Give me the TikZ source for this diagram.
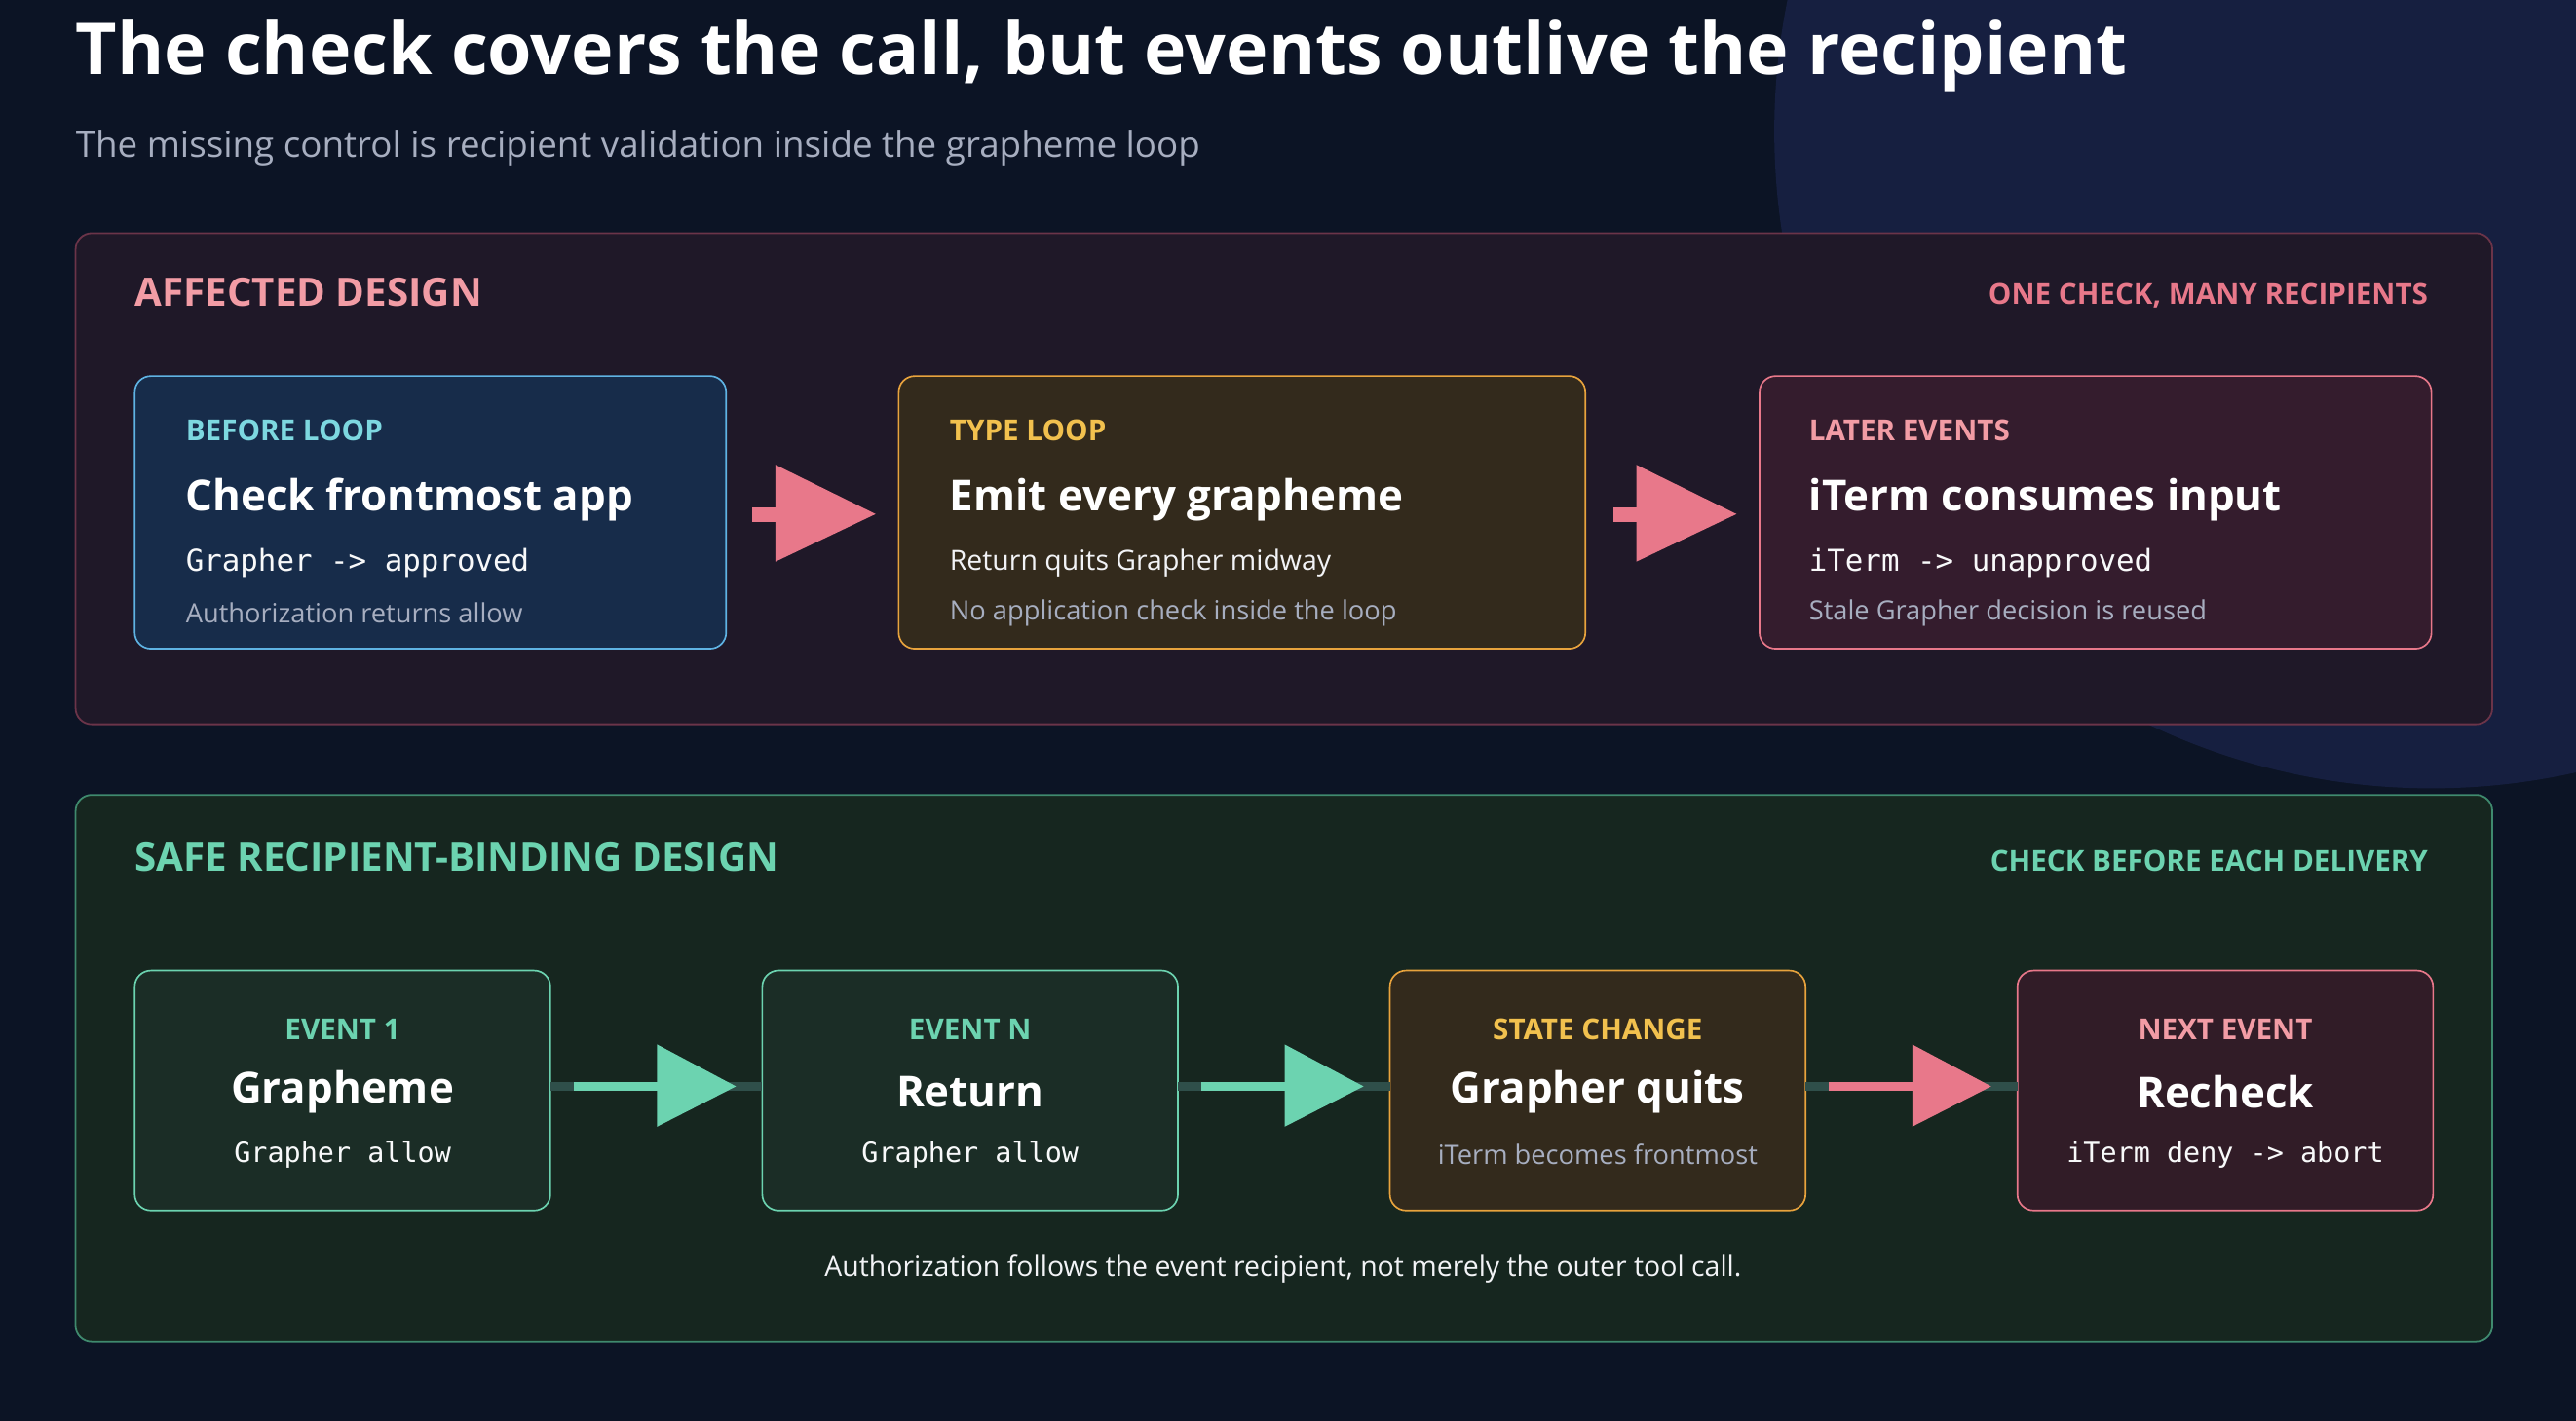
\documentclass[tikz,border=0pt]{standalone}
\usepackage{fontspec}
\setmainfont{Open Sans}
\newfontfamily\mono{DejaVu Sans Mono}
\begin{document}
\definecolor{bg}{HTML}{0C1425}
\definecolor{circ}{HTML}{161F40}
\definecolor{pA}{HTML}{1F1828}\definecolor{pAb}{HTML}{6B3449}
\definecolor{pB}{HTML}{16261F}\definecolor{pBb}{HTML}{3F8A6E}
\definecolor{pink}{HTML}{E8788A}\definecolor{pinkt}{HTML}{F29CA5}
\definecolor{mint}{HTML}{6CD3B0}\definecolor{cyan}{HTML}{7DD8E0}
\definecolor{gold}{HTML}{F2C14E}\definecolor{orng}{HTML}{E8A33D}
\definecolor{blueb}{HTML}{5FB3E3}\definecolor{gray}{HTML}{A7AEC0}
\definecolor{track}{HTML}{2F4F4A}
\definecolor{fblue}{HTML}{172C4A}\definecolor{fbrown}{HTML}{332A1C}
\definecolor{fplum}{HTML}{341C2D}\definecolor{fgreen}{HTML}{1B2D26}
\definecolor{fplum2}{HTML}{311C27}
\begin{tikzpicture}[x=0.05cm,y=-0.05cm,
  panel/.style={rounded corners=14pt,line width=1.5pt},
  box/.style={rounded corners=14pt,line width=1.4pt},
  tag/.style={font=\fontsize{25}{28}\selectfont\bfseries,inner sep=0},
  ttl/.style={font=\fontsize{37}{42}\selectfont\bfseries,text=white,inner sep=0},
  mn/.style={font=\mono\fontsize{26}{30}\selectfont,text=white!92!gray,inner sep=0},
  gr/.style={font=\fontsize{23}{26}\selectfont,text=gray,inner sep=0},
  lt/.style={font=\fontsize{24}{28}\selectfont,text=white!85!gray,inner sep=0}]
\fill[bg] (0,0) rectangle (1568,865);
\useasboundingbox (0,0) rectangle (1568,865);
\begin{scope}
\clip (0,0) rectangle (1568,865);
\fill[circ] (1480,80) circle (400);
\end{scope}
\node[anchor=west,inner sep=0,font=\fontsize{62}{70}\selectfont\bfseries,text=white] (title) at (46,34) {The check covers the call, but events outlive the recipient};
\node[anchor=west,inner sep=0,font=\fontsize{31}{36}\selectfont,text=gray] (sub) at (46,90) {The missing control is recipient validation inside the grapheme loop};
% panel A
\draw[panel,fill=pA,draw=pAb] (46,142) rectangle (1517,441);
\node[anchor=west,inner sep=0,font=\fontsize{34}{40}\selectfont\bfseries,text=pinkt] (pa) at (82,178) {AFFECTED DESIGN};
\node[anchor=east,tag,text=pink] (pat) at (1478,180) {ONE CHECK, MANY RECIPIENTS};
\draw[box,fill=fblue,draw=blueb] (82,229) rectangle (442,395);
\draw[box,fill=fbrown,draw=orng] (547,229) rectangle (965,395);
\draw[box,fill=fplum,draw=pink] (1071,229) rectangle (1480,395);
\node[anchor=west,tag,text=cyan] (a1) at (113,262) {BEFORE LOOP};
\node[anchor=west,ttl] (a2) at (113,304) {Check frontmost app};
\node[anchor=west,mn] (a3) at (113,343) {Grapher -> approved};
\node[anchor=west,gr] (a4) at (113,373) {Authorization returns allow};
\node[anchor=west,tag,text=gold] (b1) at (578,262) {TYPE LOOP};
\node[anchor=west,ttl] (b2) at (578,304) {Emit every grapheme};
\node[anchor=west,lt] (b3) at (578,343) {Return quits Grapher midway};
\node[anchor=west,gr] (b4) at (578,373) {No application check inside the loop};
\node[anchor=west,tag,text=pinkt] (c1) at (1101,262) {LATER EVENTS};
\node[anchor=west,ttl] (c2) at (1101,304) {iTerm consumes input};
\node[anchor=west,mn] (c3) at (1101,343) {iTerm -> unapproved};
\node[anchor=west,gr] (c4) at (1101,373) {Stale Grapher decision is reused};
\foreach \x in {458,982}{
 \fill[pink] (\x,309) rectangle (\x+16,318);
 \fill[pink] (\x+14,283) -- (\x+75,313) -- (\x+14,342) -- cycle;}
% panel B
\draw[panel,fill=pB,draw=pBb] (46,484) rectangle (1517,817);
\node[anchor=west,inner sep=0,font=\fontsize{34}{40}\selectfont\bfseries,text=mint] (pb) at (82,522) {SAFE RECIPIENT-BINDING DESIGN};
\node[anchor=east,tag,text=mint] (pbt) at (1478,524) {CHECK BEFORE EACH DELIVERY};
\foreach \x/\f/\d in {82/fgreen/mint,464/fgreen/mint,846/fbrown/orng,1228/fplum2/pink}{
 \draw[box,fill=\f,draw=\d] (\x,591) rectangle (\x+253,737);}
\foreach \x/\c in {335/mint,717/mint,1099/pink}{
 \fill[track] (\x,659) rectangle (\x+129,664);
 \fill[\c] (\x+14,659) rectangle (\x+66,664);
 \fill[\c] (\x+65,636) -- (\x+113,661.5) -- (\x+65,686) -- cycle;}
\node[tag,text=mint] (e1t) at (208.5,627) {EVENT 1};
\node[ttl] (e1h) at (208.5,665) {Grapheme};
\node[mn,font=\mono\fontsize{24}{28}\selectfont] (e1m) at (208.5,703) {Grapher allow};
\node[tag,text=mint] (e2t) at (590.5,627) {EVENT N};
\node[ttl] (e2h) at (590.5,665) {Return};
\node[mn,font=\mono\fontsize{24}{28}\selectfont] (e2m) at (590.5,703) {Grapher allow};
\node[tag,text=gold] (e3t) at (972.5,627) {STATE CHANGE};
\node[ttl] (e3h) at (972.5,665) {Grapher quits};
\node[gr] (e3m) at (972.5,703) {iTerm becomes frontmost};
\node[tag,text=pinkt] (e4t) at (1354.5,627) {NEXT EVENT};
\node[ttl] (e4h) at (1354.5,665) {Recheck};
\node[mn,font=\mono\fontsize{24}{28}\selectfont] (e4m) at (1354.5,703) {iTerm deny -> abort};
\node[lt] (foot) at (781,773) {Authorization follows the event recipient, not merely the outer tool call.};
\end{tikzpicture}
\end{document}
